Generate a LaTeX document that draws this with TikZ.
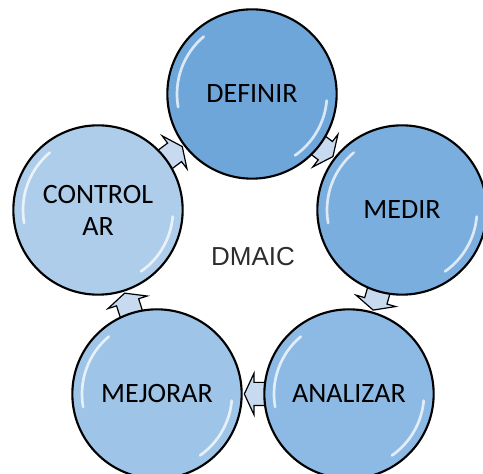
\documentclass[tikz,border=0pt]{standalone}
\usepackage{fontspec}
\setmainfont{Carlito}
\newfontfamily\dmaicfont{Liberation Sans}
\usetikzlibrary{shapes.arrows,backgrounds,calc}

\definecolor{cDef}{RGB}{111,166,218}
\definecolor{cMed}{RGB}{122,174,223}
\definecolor{cAna}{RGB}{141,186,228}
\definecolor{cMej}{RGB}{158,196,232}
\definecolor{cCon}{RGB}{173,205,235}
\definecolor{cFlecha}{RGB}{200,218,240}
\definecolor{cTexto}{RGB}{45,45,45}

\tikzset{
  fase/.style={circle, draw=black, line width=1.6pt, minimum size=127pt, inner sep=0pt,
    align=center, font=\fontsize{21}{24}\selectfont},
  flecha/.style={single arrow, draw=black, line width=0.9pt, fill=cFlecha,
    inner xsep=0pt, inner ysep=8.25pt, minimum height=26pt,
    single arrow head extend=6.75pt, single arrow tip angle=130, anchor=tip},
  brillo/.style={white, line width=2pt, opacity=0.75, line cap=round}
}

% glossy highlights inside a circle
\newcommand{\brillo}[1]{%
  \draw[brillo] ($(#1)+(-130:75)$) arc[start angle=-130, end angle=-190, radius=75];
  \draw[brillo] ($(#1)+(5:75)$) arc[start angle=5, end angle=55, radius=75];
}
% block arrow from circle #1 to circle #2, tip on the border of #2
% (y grows downwards here, so the angle is turned round)
\newcommand{\flecha}[3]{%
  \path let \p1=($(#2)-(#1)$), \n1={atan2(-\y1,\x1)} in
    node[flecha, rotate=\n1] (#3) at ($(#2)!65pt!(#1)$) {};
}

\begin{document}
\begin{tikzpicture}[x=0.75pt,y=0.75pt,yscale=-1,xscale=1]
\useasboundingbox (0,0) rectangle (483,474);

%Shape: Circle [DEFINIR]
\node[fase, fill=cDef] (def) at (252,94) {DEFINIR};
%Shape: Circle [MEDIR]
\node[fase, fill=cMed] (med) at (402,210) {MEDIR};
%Shape: Circle [ANALIZAR]
\node[fase, fill=cAna] (ana) at (349,394) {ANALIZAR};
%Shape: Circle [MEJORAR]
\node[fase, fill=cMej] (mej) at (157,394) {MEJORAR};
%Shape: Circle [CONTROLAR]
\node[fase, fill=cCon] (con) at (98,210) {CONTROL\\AR};

\brillo{def}
\brillo{med}
\brillo{ana}
\brillo{mej}
\brillo{con}

%Arrows between the steps
\begin{scope}[on background layer]
\flecha{def}{med}{f1}
\flecha{med}{ana}{f2}
\flecha{ana}{mej}{f3}
\flecha{mej}{con}{f4}
\flecha{con}{def}{f5}
\end{scope}

% Text Node
\node[font=\dmaicfont\fontsize{19.5}{22}\selectfont, text=cTexto] (dmaic) at (253,257) {DMAIC};

\end{tikzpicture}
\end{document}
